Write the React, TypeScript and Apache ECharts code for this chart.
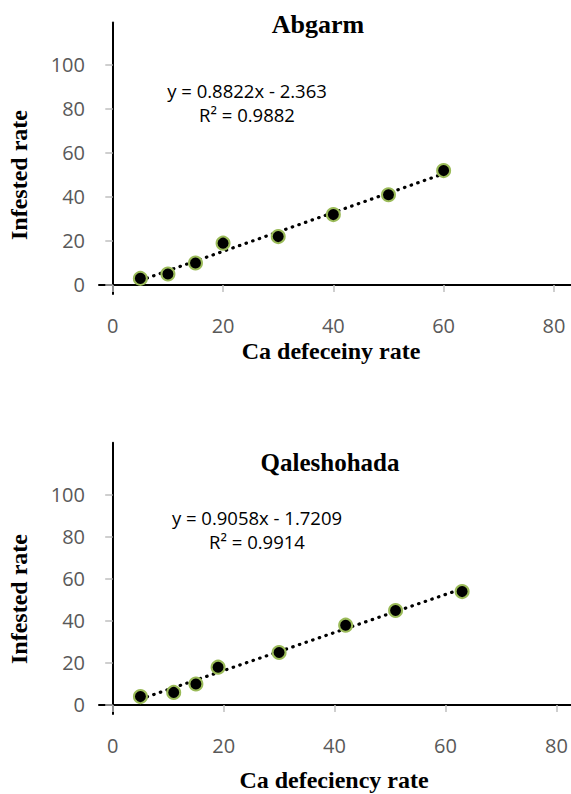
import React, { useEffect, useRef } from "react";
import * as echarts from "echarts";

// ---- data ----
const abgarmX = [5, 10, 15, 20, 30, 40, 50, 60];
const abgarmY = [3, 5, 10, 19, 22, 32, 41, 52];
const qaleX = [5, 11, 15, 19, 30, 42, 51, 63];
const qaleY = [4, 6, 10, 18, 25, 38, 45, 54];
const xTicks = [0, 20, 40, 60, 80];
const yTicks = [0, 20, 40, 60, 80, 100];
const abgarmFit = { slope: 0.8822, intercept: -2.363, r2: 0.9882 };
const qaleFit = { slope: 0.9058, intercept: -1.7209, r2: 0.9914 };
const chartTitles = ["Abgarm", "Qaleshohada"];
const xTitles = ["Ca defeceiny rate", "Ca defeciency rate"];
const yTitle = "Infested rate";

const LABEL_FONT = '"Open Sans", sans-serif';
const TITLE_FONT = '"Liberation Serif", "Times New Roman", serif';

type Panel = {
  xs: number[];
  ys: number[];
  fit: { slope: number; intercept: number; r2: number };
  grid: { left: number; top: number; width: number; height: number };
  xRange: [number, number];
  yRange: [number, number];
};

const panels: Panel[] = [
  {
    xs: abgarmX,
    ys: abgarmY,
    fit: abgarmFit,
    grid: { left: 99, top: 22.5, width: 472, height: 271.5 },
    xRange: [-2.5, 83.1],
    yRange: [-4.1, 119.3],
  },
  {
    xs: qaleX,
    ys: qaleY,
    fit: qaleFit,
    grid: { left: 99, top: 442.7, width: 472, height: 271.3 },
    xRange: [-2.47, 82.63],
    yRange: [-4.29, 124.9],
  },
];

function eqText(fit: { slope: number; intercept: number }) {
  const sign = fit.intercept < 0 ? "-" : "+";
  return `y = ${fit.slope}x ${sign} ${Math.abs(fit.intercept)}`;
}

function text(x: number, y: number, str: string, font: string, fill: string, rotation = 0) {
  return {
    type: "text",
    x,
    y,
    rotation,
    silent: true,
    style: {
      text: str,
      font,
      fill,
      textAlign: "center",
      textVerticalAlign: "middle",
      align: "center",
      verticalAlign: "middle",
    },
  };
}

export default function App() {
  const ref = useRef<HTMLDivElement>(null);

  useEffect(() => {
    document.body.style.margin = "0";
    if (!ref.current) return;
    const chart = echarts.init(ref.current, undefined, { renderer: "svg" });

    const grids = panels.map((p) => ({ ...p.grid, containLabel: false }));
    const xAxes = panels.map((p, i) => ({
      type: "value",
      gridIndex: i,
      min: p.xRange[0],
      max: p.xRange[1],
      axisLine: { show: true, onZero: true, lineStyle: { color: "#000", width: 2 } },
      axisTick: {
        show: true,
        customValues: xTicks,
        length: 7,
        lineStyle: { color: "#bfbfbf", width: 1.5 },
      },
      axisLabel: {
        customValues: xTicks,
        margin: 21,
        color: "#595959",
        fontFamily: LABEL_FONT,
        fontSize: 20,
      },
      splitLine: { show: false },
    }));
    const yAxes = panels.map((p, i) => ({
      type: "value",
      gridIndex: i,
      min: p.yRange[0],
      max: p.yRange[1],
      axisLine: { show: true, onZero: true, lineStyle: { color: "#000", width: 2 } },
      axisTick: {
        show: true,
        customValues: yTicks,
        length: 7.5,
        lineStyle: { color: "#bfbfbf", width: 1.5 },
      },
      axisLabel: {
        customValues: yTicks,
        margin: 14,
        color: "#595959",
        fontFamily: LABEL_FONT,
        fontSize: 20,
      },
      splitLine: { show: false },
    }));

    const series: any[] = [];
    panels.forEach((p, i) => {
      const xmin = Math.min(...p.xs);
      const xmax = Math.max(...p.xs);
      series.push({
        type: "line",
        xAxisIndex: i,
        yAxisIndex: i,
        data: [
          [xmin, p.fit.slope * xmin + p.fit.intercept],
          [xmax, p.fit.slope * xmax + p.fit.intercept],
        ],
        symbol: "none",
        silent: true,
        lineStyle: { color: "#000", width: 3.2, type: [0.5, 6.5], cap: "round" },
        z: 2,
      });
      series.push({
        type: "scatter",
        xAxisIndex: i,
        yAxisIndex: i,
        data: p.xs.map((x, j) => [x, p.ys[j]]),
        symbol: "circle",
        symbolSize: 13,
        itemStyle: { color: "#000", borderColor: "#9BBB59", borderWidth: 2, opacity: 1 },
        z: 3,
      });
    });

    const eqFont = `18.5px ${LABEL_FONT}`;
    const graphic = [
      text(318, 24, chartTitles[0], `bold 26px ${TITLE_FONT}`, "#000"),
      text(247, 90, eqText(panels[0].fit), eqFont, "#000"),
      text(247, 114.5, `R² = ${panels[0].fit.r2}`, eqFont, "#000"),
      text(331, 351, xTitles[0], `bold 24px ${TITLE_FONT}`, "#000"),
      text(18.5, 175, yTitle, `bold 24px ${TITLE_FONT}`, "#000", Math.PI / 2),
      text(330, 462, chartTitles[1], `bold 25px ${TITLE_FONT}`, "#000"),
      text(257, 517, eqText(panels[1].fit), eqFont, "#000"),
      text(257, 541.5, `R² = ${panels[1].fit.r2}`, eqFont, "#000"),
      text(334, 780, xTitles[1], `bold 24px ${TITLE_FONT}`, "#000"),
      text(18.5, 599, yTitle, `bold 24px ${TITLE_FONT}`, "#000", Math.PI / 2),
    ];

    chart.setOption({
      animation: false,
      backgroundColor: "#fff",
      grid: grids,
      xAxis: xAxes,
      yAxis: yAxes,
      series,
      graphic,
    } as any);

    return () => chart.dispose();
  }, []);

  return <div ref={ref} style={{ width: 571, height: 794 }} />;
}
